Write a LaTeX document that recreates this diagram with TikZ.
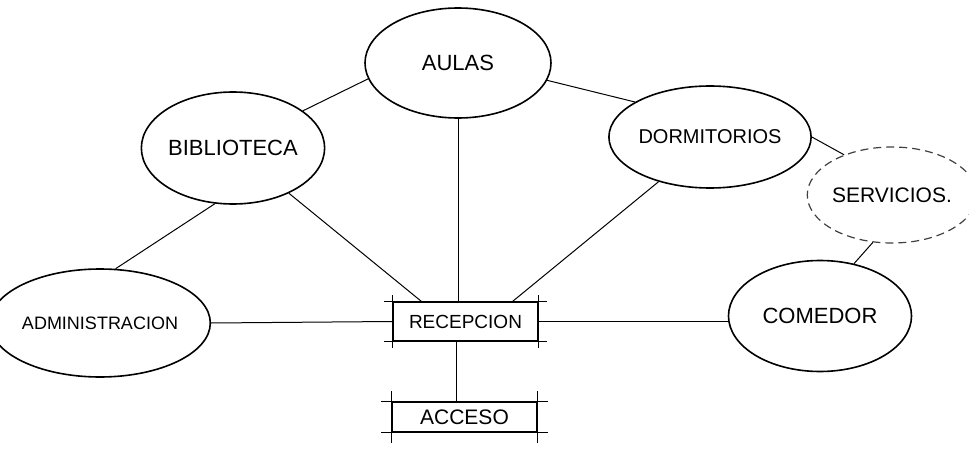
\documentclass[tikz,border=0pt]{standalone}
\usepackage{fontspec}
\setmainfont{Liberation Sans}
\usepackage{tikz}
\usetikzlibrary{shapes.geometric,calc}
\tikzset{
  room/.style={
    draw, ellipse, line width=0.8pt, inner sep=0pt,
    font=\fontsize{11}{13}\selectfont,
  },
  faintroom/.style={
    room, draw=black!75, line width=0.6pt, dash pattern=on 4pt off 2.5pt,
  },
  desk/.style={
    draw, rectangle, line width=0.6pt, inner sep=0pt,
    font=\fontsize{10.5}{12}\selectfont,
  },
  link/.style={line width=0.5pt},
  tick/.style={line width=0.6pt},
}
\newcommand\drawticks[3]{%
  \draw[tick] ([xshift=-#2]#1.north west) -- ([xshift=#2]#1.north east);
  \draw[tick] ([xshift=-#2]#1.south west) -- ([xshift=#2]#1.south east);
  \draw[tick] ([yshift=#3]#1.north west) -- ([yshift=-#3]#1.south west);
  \draw[tick] ([yshift=#3]#1.north east) -- ([yshift=-#3]#1.south east);
}

\begin{document}
\begin{tikzpicture}[x=0.5pt, y=-0.5pt]

  \useasboundingbox (0,0) rectangle (969,449);

  \node[room, minimum width=93pt, minimum height=55pt] (aulas) at (458,63) {AULAS};

  \node[room, minimum width=91pt, minimum height=56pt] (biblio) at (233,148) {BIBLIOTECA};

  \node[room, minimum width=91.5pt, minimum height=51pt,
        font=\fontsize{10}{12}\selectfont] (dorm) at (710,137) {DORMITORIOS};

  \node[faintroom, minimum width=76pt, minimum height=48pt,
        font=\fontsize{10.5}{12}\selectfont] (serv) at (892,195) {SERVICIOS.};

  \node[room, minimum width=92pt, minimum height=54pt,
        font=\fontsize{9}{11}\selectfont] (admin) at (100,323) {ADMINISTRACION};

  \node[room, minimum width=91.5pt, minimum height=55.5pt] (comedor) at (820,316) {COMEDOR};

  \node[desk, minimum width=72.5pt, minimum height=19.5pt,
        font=\fontsize{9.5}{11}\selectfont] (recep) at (465.5,321.5) {RECEPCION};

  \node[desk, minimum width=72.5pt, minimum height=15pt] (acceso) at (464.5,417) {ACCESO};

  \drawticks{recep}{4pt}{3pt}
  \drawticks{acceso}{5pt}{5pt}

  \draw[link] (aulas.190) -- (biblio.28);
  \draw[link] (aulas.349) -- (dorm.155);
  \draw[link] (dorm.0) -- (serv.140);
  \draw[link] (serv.248) -- (comedor.57);
  \draw[link] (biblio.252) -- (admin.74);
  \draw[link] (biblio.321) -- ([xshift=14.5pt]recep.north west);
  \draw[link] (dorm.221) -- ([xshift=-13pt]recep.north east);
  \draw[link] (aulas.south) -- (aulas.south |- recep.north);
  \draw[link] (admin.east) -- (recep.west);
  \draw[link] (recep.east) -- (recep.east -| comedor.west);
  \draw[link] ([xshift=-4.5pt]recep.south) -- ([xshift=-4.5pt]recep.south |- acceso.north);

\end{tikzpicture}
\end{document}
